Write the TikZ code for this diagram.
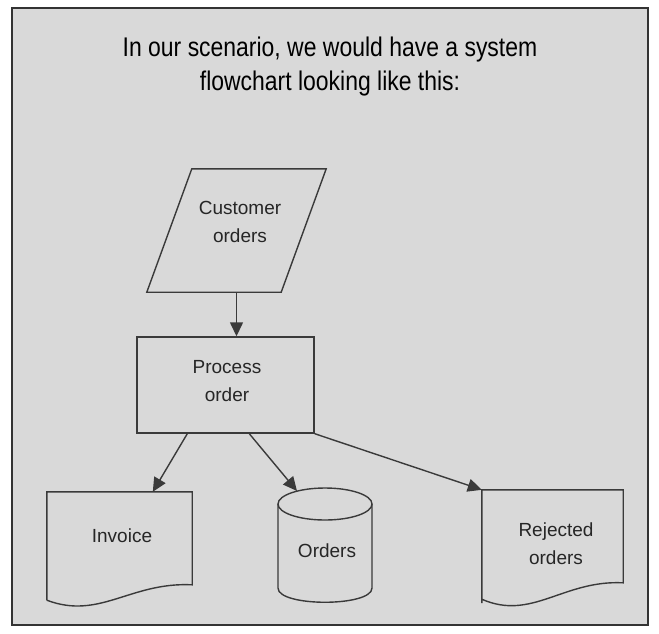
\documentclass[tikz,border=0pt]{standalone}
\usepackage{fontspec}
\setmainfont{Liberation Sans}
\newfontfamily\titlefont[FakeStretch=0.85]{Liberation Sans}
\usetikzlibrary{arrows.meta,calc}
\definecolor{bg}{HTML}{D9D9D9}
\definecolor{ln}{HTML}{3A3A3A}
\tikzset{
  shp/.style={draw=ln, line width=1.4pt},
  hold/.style={rectangle, draw=none, inner sep=0pt},
  lbl/.style={align=center, font=\fontsize{19}{28}\selectfont, text=black!85},
  arr/.style={draw=ln, line width=1.4pt, -{Triangle[length=14pt,width=13pt]}},
}
\begin{document}
\begin{tikzpicture}[x=1pt,y=-1pt]
\useasboundingbox (0,0) rectangle (659,633);
\fill[white] (0,0) rectangle (659,633);
\draw[fill=bg, draw=black!80, line width=1.2pt] (12,8) rectangle (648,625);

\node[align=center, font=\titlefont\fontsize{27}{34}\selectfont] (title) at (330,67)
  {In our scenario, we would have a system\\flowchart looking like this:};

% Customer orders (parallelogram)
\node[hold, minimum width=179pt, minimum height=123pt] (cust) at (236.5,230.5) {};
\draw[shp] ($(cust.north west)+(45,0)$) -- (cust.north east) -- ($(cust.south east)+(-45,0)$) -- (cust.south west) -- cycle;
\node[lbl] (custlbl) at (240,222) {Customer\\orders};

% Process order
\node[hold, shp, minimum width=177pt, minimum height=96pt] (proc) at (225.5,385) {};
\node[lbl] (proclbl) at (227,381) {Process\\order};

% Invoice (document)
\node[hold, minimum width=145pt, minimum height=108pt] (inv) at (119.5,546) {};
\draw[shp] (inv.south west) -- (inv.north west) -- (inv.north east) -- ($(inv.north east)+(0,93)$)
  .. controls ($(inv.north east)+(-62,90)$) and ($(inv.south west)+(53,20)$) .. (inv.south west);
\node[lbl] (invlbl) at (122,536) {Invoice};

% Orders (cylinder)
\node[hold, minimum width=94pt, minimum height=114pt] (db) at (325,545) {};
\draw[shp] (325,504) ellipse [x radius=47, y radius=16];
\draw[shp] (278,504) -- (278,588) .. controls (278,607) and (372,607) .. (372,588) -- (372,504);
\node[lbl] (dblbl) at (327,551) {Orders};
\coordinate (dbin) at (297,491);

% Rejected orders (document)
\node[hold, minimum width=141pt, minimum height=113pt] (rej) at (552.5,546.5) {};
\draw[shp] (rej.south west) -- (rej.north west) -- (rej.north east) -- ($(rej.north east)+(0,93)$)
  .. controls ($(rej.north east)+(-60,90)$) and ($(rej.south west)+(50,18)$) .. ($(rej.south west)+(0,-4)$) -- cycle;
\node[lbl] (rejlbl) at (556,544) {Rejected\\orders};

% connectors
\draw[arr] (cust.south) -- (cust.south |- proc.north);
\draw[arr] ($(proc.south west)+(51,0)$) -- ($(inv.north west)+(106,0)$);
\draw[arr] ($(proc.south west)+(113,0)$) -- (dbin);
\draw[arr] (proc.south east) -- (rej.north west);
\end{tikzpicture}
\end{document}
